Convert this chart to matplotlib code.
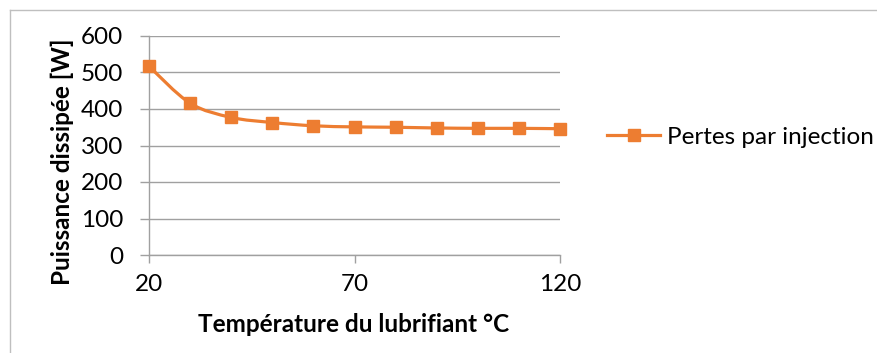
import numpy as np
import matplotlib.pyplot as plt
from matplotlib.path import Path
from matplotlib.patches import PathPatch
from matplotlib.lines import Line2D

plt.rcParams['font.family'] = ['Lato', 'DejaVu Sans']

temperature = [20, 30, 40, 50, 60, 70, 80, 90, 100, 110, 120]
pertes = [517, 416, 377, 363, 354, 351, 350, 348, 347, 347, 346]
x_ticks = [20, 70, 120]
y_ticks = [0, 100, 200, 300, 400, 500, 600]

orange = '#ED7D31'
grid_grey = '#A0A0A0'
fs = 17.5


def smooth_path(xs, ys, tension=1 / 6):
    # Bezier segments through every point, like a "smoothed line" in a spreadsheet
    xs = np.asarray(xs, float)
    ys = np.asarray(ys, float)
    n = len(xs)
    verts = [(xs[0], ys[0])]
    codes = [Path.MOVETO]
    for i in range(n - 1):
        i0 = max(i - 1, 0)
        i3 = min(i + 2, n - 1)
        c1 = (xs[i] + (xs[i + 1] - xs[i0]) * tension, ys[i] + (ys[i + 1] - ys[i0]) * tension)
        c2 = (xs[i + 1] - (xs[i3] - xs[i]) * tension, ys[i + 1] - (ys[i3] - ys[i]) * tension)
        verts += [c1, c2, (xs[i + 1], ys[i + 1])]
        codes += [Path.CURVE4] * 3
    return Path(verts, codes)


fig = plt.figure(figsize=(8.78, 3.53), dpi=100)
ax = fig.add_axes([149 / 878, 1 - 255 / 353, (560 - 149) / 878, (255 - 36) / 353])

ax.add_patch(PathPatch(smooth_path(temperature, pertes), facecolor='none',
                       edgecolor=orange, lw=2.3, capstyle='round', zorder=3))
ax.plot(temperature, pertes, ls='none', marker='s', ms=8, color=orange,
        mec=orange, zorder=4, clip_on=False)

ax.set_xlim(20, 120)
ax.set_ylim(0, 600)
ax.set_xticks(x_ticks)
ax.set_yticks(y_ticks)
ax.yaxis.grid(True, color=grid_grey, lw=1)
ax.set_axisbelow(True)

for side in ['top', 'right']:
    ax.spines[side].set_visible(False)
for side in ['left', 'bottom']:
    ax.spines[side].set_color(grid_grey)
    ax.spines[side].set_linewidth(1)

ax.tick_params(axis='y', length=6.5, width=1, color=grid_grey, pad=12,
               labelsize=fs, labelcolor='black')
ax.tick_params(axis='x', length=6, width=1, color=grid_grey, pad=8,
               labelsize=fs, labelcolor='black')

fig.text(62 / 878, 1 - 162 / 353, 'Puissance dissipée [W]', rotation=90,
         ha='center', va='center', fontsize=fs, fontweight='bold')
fig.text(354 / 878, 1 - 324 / 353, 'Température du lubrifiant °C',
         ha='center', va='center', fontsize=fs, fontweight='bold')

handle = Line2D([], [], color=orange, lw=2.3, marker='s', ms=8, mec=orange)
fig.legend([handle], ['Pertes par injection'], loc='center left',
           bbox_to_anchor=(607 / 878, 1 - 137 / 353), frameon=False,
           fontsize=fs, handlelength=2.2, handletextpad=0.25,
           borderaxespad=0, borderpad=0)

# chart frame (left and top edges)
fig.add_artist(Line2D([10 / 878, 10 / 878], [0, 1 - 10 / 353], color='#BFBFBF', lw=1))
fig.add_artist(Line2D([10 / 878, 1], [1 - 10 / 353, 1 - 10 / 353], color='#BFBFBF', lw=1))

fig.savefig('out.png', dpi=100)
